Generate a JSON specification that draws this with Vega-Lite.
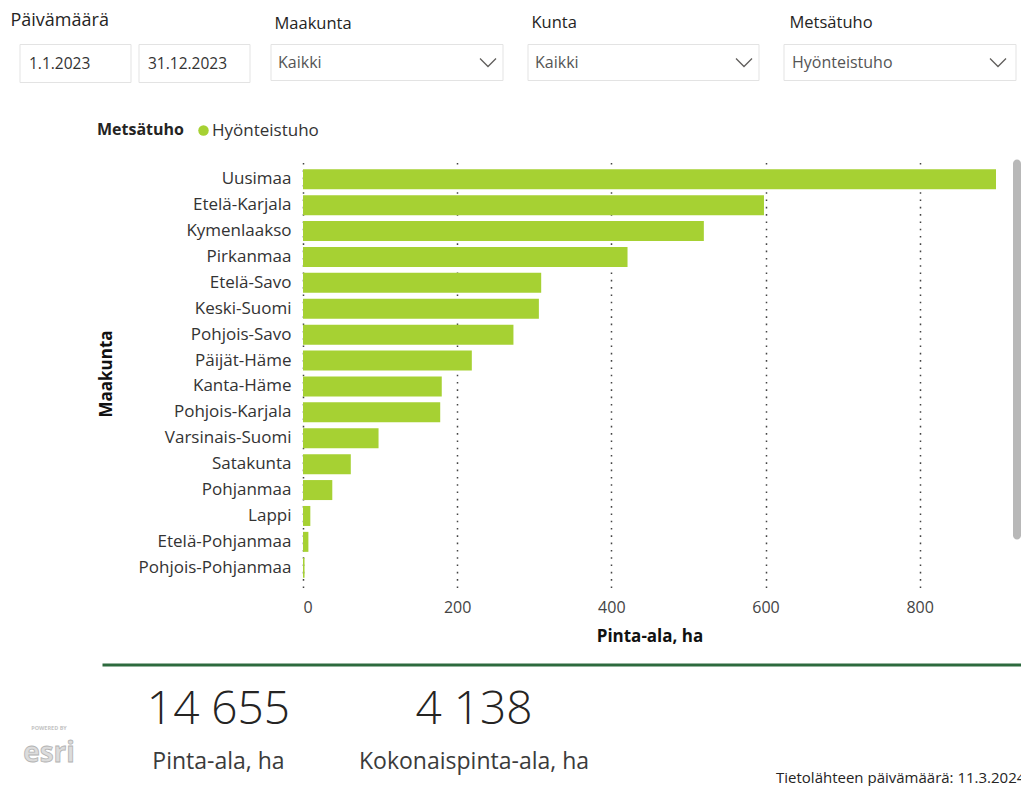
{
  "$schema": "https://vega.github.io/schema/vega-lite/v6.json",
  "background": "#ffffff",
  "padding": {"left": 10, "top": 11.5, "right": 0, "bottom": 0},
  "config": {
    "view": {"stroke": null},
    "font": "Segoe UI, Open Sans, sans-serif",
    "locale": {"number": {"decimal": ",", "thousands": " ", "grouping": [3], "currency": ["", " €"]}}
  },
  "spacing": 76,
  "vconcat": [
    {
      "spacing": 19,
      "hconcat": [
        {
          "width": 230, "height": 38,
          "title": {"text": "Päivämäärä", "anchor": "start", "dx": -9, "fontSize": 18, "fontWeight": "normal", "color": "#252423", "offset": 14},
          "data": {"values": [{"kentta": "alku", "pvm": "1.1.2023"}, {"kentta": "loppu", "pvm": "31.12.2023"}]},
          "layer": [
            {"mark": {"type": "rect", "fill": "#ffffff", "stroke": "#e3e3e3", "strokeWidth": 1},
             "encoding": {"x": {"field": "pvm", "type": "nominal", "sort": null, "axis": null, "scale": {"paddingInner": 0.067, "paddingOuter": 0}}}},
            {"mark": {"type": "text", "align": "left", "dx": 9, "fontSize": 15.5, "color": "#333333"},
             "encoding": {"x": {"field": "pvm", "type": "nominal", "sort": null, "axis": null, "bandPosition": 0}, "text": {"field": "pvm"}}}
          ]
        },
        {
          "spacing": 23,
          "hconcat": [
            {
              "width": 232, "height": 36,
              "title": {"text": "Maakunta", "anchor": "start", "dx": 4, "fontSize": 16.5, "fontWeight": "normal", "color": "#252423", "offset": 12},
              "data": {"values": [{"suodatin": "Maakunta", "valinta": "Kaikki"}]},
              "layer": [
                {"mark": {"type": "rect", "fill": "#ffffff", "stroke": "#e3e3e3", "strokeWidth": 1},
                 "encoding": {"x": {"field": "valinta", "type": "nominal", "axis": null, "scale": {"paddingInner": 0, "paddingOuter": 0}}}},
                {"mark": {"type": "text", "align": "left", "dx": 7, "fontSize": 16, "color": "#555555"},
                 "encoding": {"x": {"field": "valinta", "type": "nominal", "axis": null, "bandPosition": 0}, "text": {"field": "valinta"}}},
                {"mark": {"type": "point", "shape": "M-1,-0.5L0,0.5L1,-0.5", "filled": false, "size": 256, "stroke": "#605e5c", "strokeWidth": 1.3, "opacity": 1, "xOffset": -15},
                 "encoding": {"x": {"field": "valinta", "type": "nominal", "axis": null, "bandPosition": 1}}}
              ]
            },
            {
              "width": 231, "height": 36,
              "title": {"text": "Kunta", "anchor": "start", "dx": 4, "fontSize": 16.5, "fontWeight": "normal", "color": "#252423", "offset": 12.5},
              "data": {"values": [{"suodatin": "Kunta", "valinta": "Kaikki"}]},
              "layer": [
                {"mark": {"type": "rect", "fill": "#ffffff", "stroke": "#e3e3e3", "strokeWidth": 1},
                 "encoding": {"x": {"field": "valinta", "type": "nominal", "axis": null, "scale": {"paddingInner": 0, "paddingOuter": 0}}}},
                {"mark": {"type": "text", "align": "left", "dx": 7, "fontSize": 16, "color": "#555555"},
                 "encoding": {"x": {"field": "valinta", "type": "nominal", "axis": null, "bandPosition": 0}, "text": {"field": "valinta"}}},
                {"mark": {"type": "point", "shape": "M-1,-0.5L0,0.5L1,-0.5", "filled": false, "size": 256, "stroke": "#605e5c", "strokeWidth": 1.3, "opacity": 1, "xOffset": -15},
                 "encoding": {"x": {"field": "valinta", "type": "nominal", "axis": null, "bandPosition": 1}}}
              ]
            },
            {
              "width": 232, "height": 36,
              "title": {"text": "Metsätuho", "anchor": "start", "dx": 6, "fontSize": 16.5, "fontWeight": "normal", "color": "#252423", "offset": 13},
              "data": {"values": [{"suodatin": "Metsätuho", "valinta": "Hyönteistuho"}]},
              "layer": [
                {"mark": {"type": "rect", "fill": "#ffffff", "stroke": "#e3e3e3", "strokeWidth": 1},
                 "encoding": {"x": {"field": "valinta", "type": "nominal", "axis": null, "scale": {"paddingInner": 0, "paddingOuter": 0}}}},
                {"mark": {"type": "text", "align": "left", "dx": 8, "fontSize": 16, "color": "#555555"},
                 "encoding": {"x": {"field": "valinta", "type": "nominal", "axis": null, "bandPosition": 0}, "text": {"field": "valinta"}}},
                {"mark": {"type": "point", "shape": "M-1,-0.5L0,0.5L1,-0.5", "filled": false, "size": 256, "stroke": "#605e5c", "strokeWidth": 1.3, "opacity": 1, "xOffset": -18},
                 "encoding": {"x": {"field": "valinta", "type": "nominal", "axis": null, "bandPosition": 1}}}
              ]
            }
          ]
        }
      ]
    },
    {
      "spacing": 20,
      "vconcat": [
        {
          "spacing": 17,
          "hconcat": [
            {"width": 60, "height": 1, "data": {"values": []}, "mark": "point", "encoding": {}},
            {
              "width": 693, "height": 428,
              "data": {"values": [
                {"Maakunta": "Uusimaa", "Metsätuho": "Hyönteistuho", "pinta_ala": 899},
                {"Maakunta": "Etelä-Karjala", "Metsätuho": "Hyönteistuho", "pinta_ala": 598},
                {"Maakunta": "Kymenlaakso", "Metsätuho": "Hyönteistuho", "pinta_ala": 520},
                {"Maakunta": "Pirkanmaa", "Metsätuho": "Hyönteistuho", "pinta_ala": 421},
                {"Maakunta": "Etelä-Savo", "Metsätuho": "Hyönteistuho", "pinta_ala": 309},
                {"Maakunta": "Keski-Suomi", "Metsätuho": "Hyönteistuho", "pinta_ala": 306},
                {"Maakunta": "Pohjois-Savo", "Metsätuho": "Hyönteistuho", "pinta_ala": 273},
                {"Maakunta": "Päijät-Häme", "Metsätuho": "Hyönteistuho", "pinta_ala": 219},
                {"Maakunta": "Kanta-Häme", "Metsätuho": "Hyönteistuho", "pinta_ala": 180},
                {"Maakunta": "Pohjois-Karjala", "Metsätuho": "Hyönteistuho", "pinta_ala": 178},
                {"Maakunta": "Varsinais-Suomi", "Metsätuho": "Hyönteistuho", "pinta_ala": 98},
                {"Maakunta": "Satakunta", "Metsätuho": "Hyönteistuho", "pinta_ala": 62},
                {"Maakunta": "Pohjanmaa", "Metsätuho": "Hyönteistuho", "pinta_ala": 38},
                {"Maakunta": "Lappi", "Metsätuho": "Hyönteistuho", "pinta_ala": 9.5},
                {"Maakunta": "Etelä-Pohjanmaa", "Metsätuho": "Hyönteistuho", "pinta_ala": 7},
                {"Maakunta": "Pohjois-Pohjanmaa", "Metsätuho": "Hyönteistuho", "pinta_ala": 2}
              ]},
              "mark": {"type": "bar"},
              "encoding": {
                "y": {"field": "Maakunta", "type": "nominal", "sort": "-x",
                      "scale": {"paddingInner": 0.228, "paddingOuter": 0.376},
                      "axis": {"title": "Maakunta", "domain": false, "ticks": false, "grid": false, "labelPadding": 12, "labelFontSize": 17, "labelColor": "#333333", "titleFontSize": 17, "titleFontWeight": "bold", "titleColor": "#111111", "titlePadding": 23}},
                "x": {"field": "pinta_ala", "type": "quantitative", "scale": {"nice": false, "zero": true},
                      "axis": {"title": "Pinta-ala, ha", "values": [0, 200, 400, 600, 800], "domain": false, "ticks": false, "grid": true, "gridColor": "#444444", "gridDash": [1.6, 5.7], "gridWidth": 1.5, "labelPadding": 12, "labelFontSize": 16, "labelColor": "#444444", "titleFontSize": 17, "titleFontWeight": "bold", "titleColor": "#111111", "titlePadding": 13}},
                "color": {"field": "Metsätuho", "type": "nominal", "scale": {"range": ["#a6d133"]},
                          "legend": {"orient": "none", "legendX": 77, "legendY": 77.5, "direction": "horizontal", "title": "Metsätuho", "titleOrient": "left", "titleFontSize": 16, "titleFontWeight": "bold", "titleColor": "#252423", "titlePadding": 11, "labelFontSize": 17, "labelColor": "#333333", "symbolType": "circle", "symbolSize": 110, "labelOffset": 0}}
              }
            },
            {
              "width": 8, "height": 380,
              "data": {"values": [{"vierityspalkki": "Maakunta"}]},
              "mark": {"type": "rect", "fill": "#b8b8b8", "cornerRadius": 4},
              "encoding": {"x": {"field": "vierityspalkki", "type": "nominal", "axis": null, "scale": {"paddingInner": 0, "paddingOuter": 0}}}
            }
          ]
        },
        {
          "spacing": 24,
          "hconcat": [
            {
              "width": 58, "height": 100,
              "data": {"values": [{"logo": "esri", "yla": "POWERED BY"}]},
              "layer": [
                {"mark": {"type": "text", "fontSize": 28, "fontWeight": "bold", "fill": "#dcdcdc", "stroke": "#b3b3b3", "strokeWidth": 0.8, "dy": 39}, "encoding": {"text": {"field": "logo"}}},
                {"mark": {"type": "text", "fontSize": 5.5, "fontWeight": "bold", "color": "#c4c4c4", "dy": 13}, "encoding": {"text": {"field": "yla"}}}
              ]
            },
            {
              "width": 920, "height": 100,
              "title": {"text": "Tietolähteen päivämäärä: 11.3.2024", "orient": "bottom", "anchor": "start", "dx": 674, "offset": -3, "fontSize": 15, "fontWeight": "normal", "color": "#252423"},
              "data": {"values": [{"mittari": "Pinta-ala, ha", "arvo": 14655}, {"mittari": "Kokonaispinta-ala, ha", "arvo": 4138}]},
              "encoding": {"x": {"field": "mittari", "type": "nominal", "sort": null,
                                 "scale": {"type": "band", "paddingInner": 0.4, "paddingOuter": 1, "align": 0.0779},
                                 "axis": {"orient": "top", "labels": false, "ticks": false, "title": null, "grid": false, "domainColor": "#2d6a3e", "domainWidth": 3}}},
              "layer": [
                {"mark": {"type": "text", "fontSize": 46, "fontWeight": 300, "color": "#252423", "dy": -5}, "encoding": {"text": {"field": "arvo", "type": "quantitative", "format": ",d"}}},
                {"mark": {"type": "text", "fontSize": 23, "color": "#3b3b3b", "dy": 47}, "encoding": {"text": {"field": "mittari"}}}
              ]
            }
          ]
        }
      ]
    }
  ]
}
